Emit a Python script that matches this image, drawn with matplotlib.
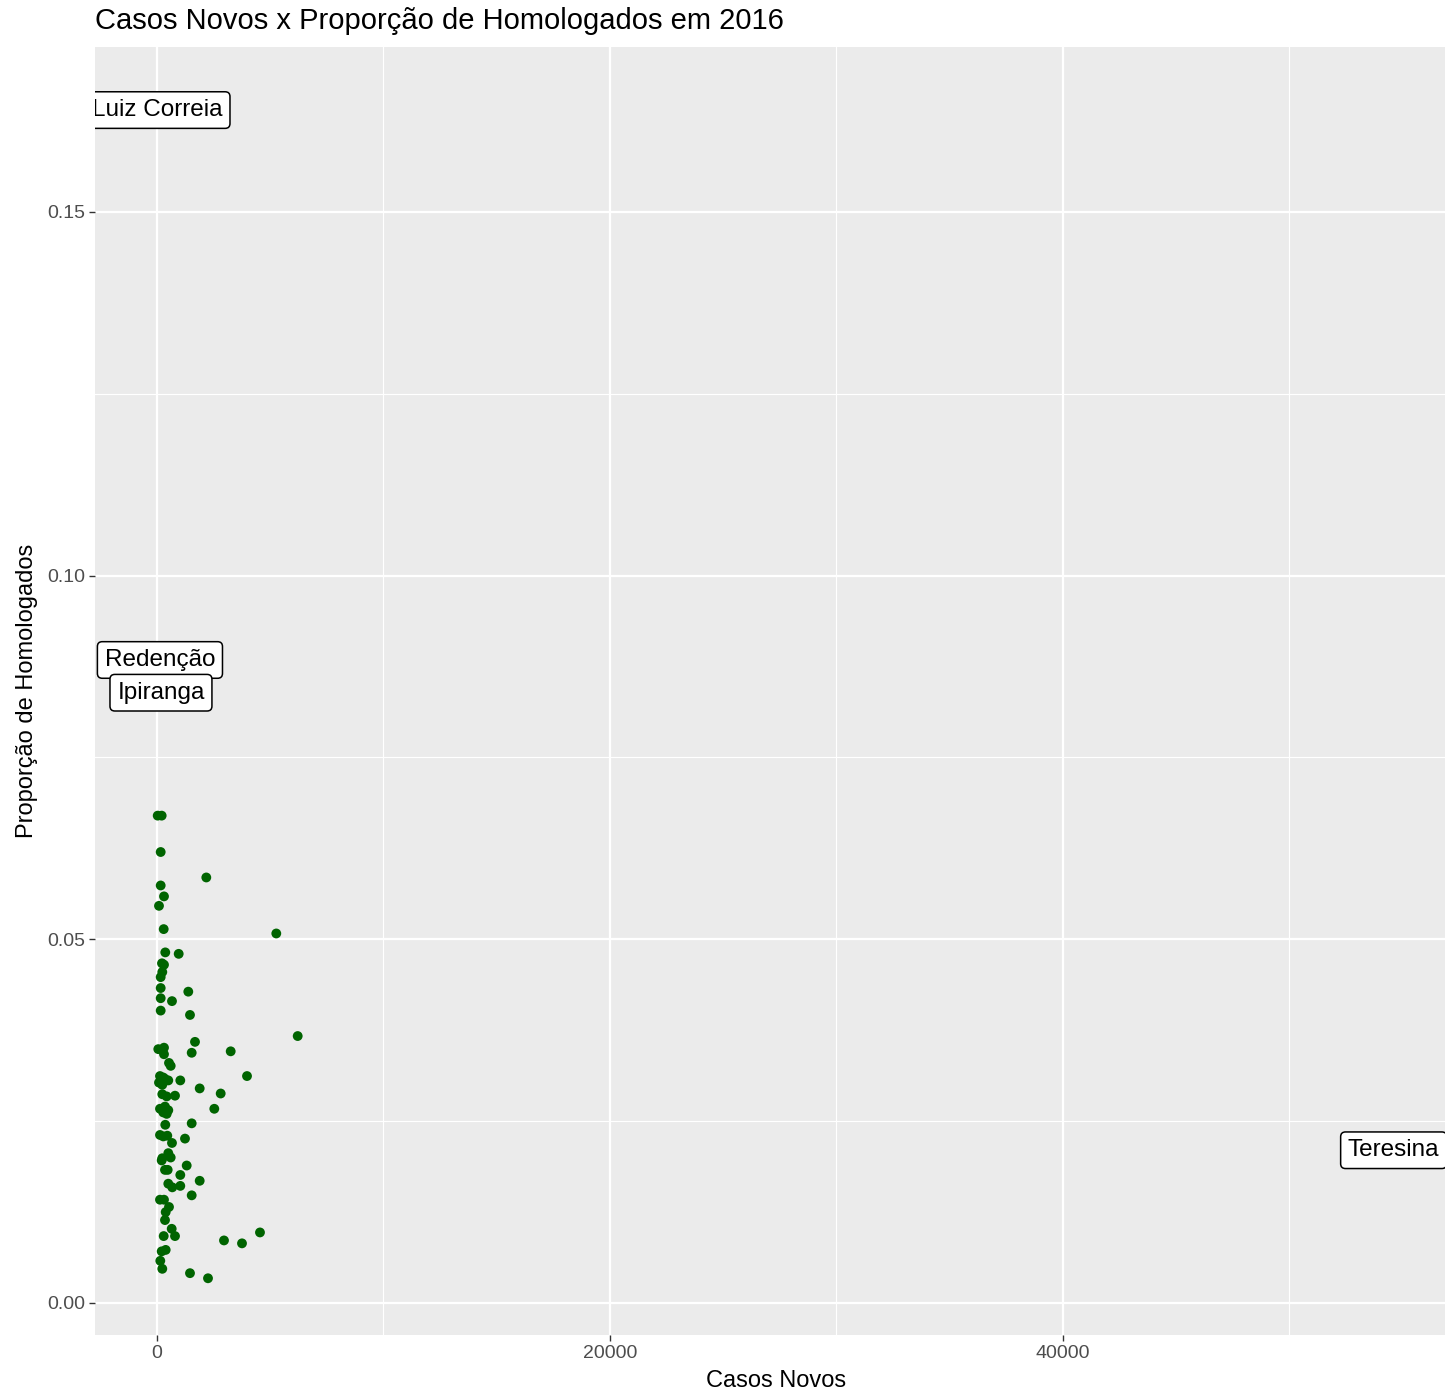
import matplotlib
matplotlib.use("Agg")
import matplotlib.pyplot as plt
from matplotlib.ticker import MultipleLocator
import numpy as np

plt.rcParams['font.family'] = ['Liberation Sans', 'DejaVu Sans']

casos_novos = [31, 207, 163, 2177, 163, 309, 88, 296, 5267, 366, 958, 221, 309, 234,
               163, 163, 1382, 163, 662, 163, 1457, 6212, 1678, 3254, 57, 309, 309,
               1532, 530, 605, 3974, 132, 278, 499, 88, 234, 353, 1029, 1885, 2812,
               234, 428, 795, 2530, 132, 353, 499, 278, 428, 1532, 366, 132, 278, 455,
               1236, 662, 499, 605, 234, 207, 1311, 353, 472, 1029, 1885, 499, 675,
               1029, 1532, 132, 309, 530, 384, 353, 649, 795, 296, 4547, 2958, 3753,
               207, 384, 146, 234, 1457, 2252]
proporcao = [0.0670, 0.0670, 0.0620, 0.0585, 0.0574, 0.0559, 0.0546, 0.0514, 0.0508,
             0.0482, 0.0480, 0.0467, 0.0465, 0.0455, 0.0448, 0.0433, 0.0428, 0.0419,
             0.0415, 0.0402, 0.0396, 0.0367, 0.0359, 0.0346, 0.0349, 0.0351, 0.0342,
             0.0344, 0.0330, 0.0326, 0.0312, 0.0312, 0.0310, 0.0306, 0.0303, 0.0300,
             0.0308, 0.0306, 0.0295, 0.0288, 0.0287, 0.0284, 0.0285, 0.0267, 0.0267,
             0.0270, 0.0265, 0.0262, 0.0260, 0.0247, 0.0245, 0.0231, 0.0229, 0.0230,
             0.0226, 0.0220, 0.0206, 0.0200, 0.0199, 0.0196, 0.0189, 0.0183, 0.0183,
             0.0176, 0.0168, 0.0164, 0.0159, 0.0161, 0.0148, 0.0142, 0.0142, 0.0132,
             0.0125, 0.0114, 0.0102, 0.0092, 0.0092, 0.0097, 0.0086, 0.0082, 0.0071,
             0.0073, 0.0058, 0.0047, 0.0041, 0.0034]

rotulos = ["Luiz Correia", "Redenção", "Ipiranga", "Teresina"]
rotulos_x = [20, 130, 175, 54600]
rotulos_y = [0.1640, 0.0884, 0.0839, 0.0210]

W, H = 1445, 1394
fig = plt.figure(figsize=(W / 100, H / 100), dpi=100)
fig.patch.set_facecolor('white')
ax = fig.add_axes([95 / W, (H - 1335) / H, (1455 - 95) / W, (1335 - 47) / H])
ax.set_facecolor('#EBEBEB')
for s in ax.spines.values():
    s.set_visible(False)

ax.set_xlim(-2737, 57307)
ax.set_ylim(-0.0044, 0.17267)
ax.xaxis.set_major_locator(MultipleLocator(20000))
ax.xaxis.set_minor_locator(MultipleLocator(10000))
ax.yaxis.set_major_locator(MultipleLocator(0.05))
ax.yaxis.set_minor_locator(MultipleLocator(0.025))
ax.yaxis.set_major_formatter(matplotlib.ticker.FuncFormatter(lambda v, p: f"{v:.2f}"))
ax.xaxis.set_major_formatter(matplotlib.ticker.FuncFormatter(lambda v, p: f"{int(round(v))}"))
ax.grid(which='major', color='white', linewidth=1.6)
ax.grid(which='minor', color='white', linewidth=0.8)
ax.set_axisbelow(True)
ax.tick_params(which='major', length=4, width=1.0, color='#333333',
               labelcolor='#4D4D4D', labelsize=14, pad=3)
ax.tick_params(which='minor', length=0)

ax.scatter(casos_novos + rotulos_x, proporcao + rotulos_y, s=50, color='#006400',
           edgecolors='none', zorder=3)

for lab, lx, ly in zip(rotulos, rotulos_x, rotulos_y):
    ax.text(lx, ly, lab, ha='center', va='center', fontsize=17.5, color='black',
            zorder=4, clip_on=True,
            bbox=dict(boxstyle='round,pad=0.3,rounding_size=0.2', facecolor='white',
                      edgecolor='black', linewidth=1.1))

fig.text(95 / W, 1 - 21 / H, "Casos Novos x Proporção de Homologados em 2016",
         ha='left', va='center', fontsize=21, color='black')
fig.text(776 / W, 1 - 1381 / H, "Casos Novos", ha='center', va='center',
         fontsize=17, color='black')
fig.text(27 / W, 1 - 691 / H, "Proporção de Homologados", ha='center', va='center',
         rotation=90, fontsize=17, color='black')

fig.savefig("out.png", dpi=100)
